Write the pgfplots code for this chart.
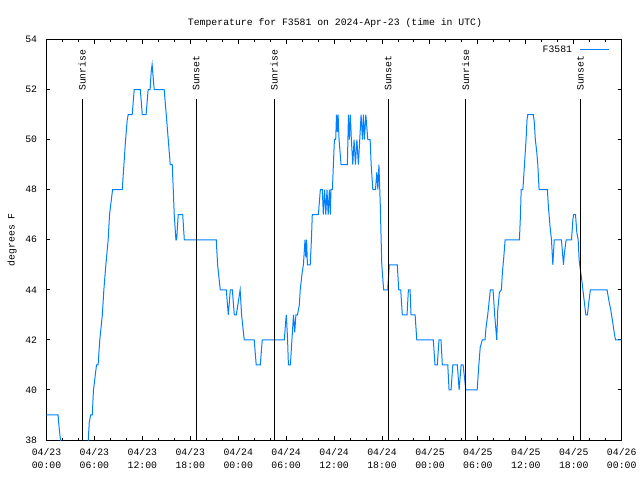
\documentclass[border=0pt]{standalone}
\usepackage{pgfplots}
\pgfplotsset{compat=1.18}
\usepackage{fontspec}
\setmainfont{Liberation Mono}
\definecolor{gblue}{RGB}{0,128,255}
\begin{document}
\fontsize{9.8}{13}\selectfont
\begin{tikzpicture}
\path[use as bounding box] (-46.5pt,-40pt) rectangle (593.5pt,440pt);
\node[anchor=center] at (288.5pt,417pt) {Temperature for F3581 on 2024-Apr-23 (time in UTC)};
\begin{axis}[
  at={(0pt,0pt)}, anchor=south west,
  scale only axis, width=575.2pt, height=400.5pt,
  xmin=0, xmax=72, ymin=38, ymax=54,
  xtick={0,6,...,72},
  minor x tick num=2,
  xticklabels={04/23\\00:00,04/23\\06:00,04/23\\12:00,04/23\\18:00,04/24\\00:00,04/24\\06:00,04/24\\12:00,04/24\\18:00,04/25\\00:00,04/25\\06:00,04/25\\12:00,04/25\\18:00,04/26\\00:00},
  ytick={38,40,...,54},
  tick align=inside, xtick pos=both, ytick pos=both,
  major tick length=4pt, minor tick length=2.5pt,
  tick style={black, line width=1pt},
  axis line style={line width=1pt},
  /pgf/number format/assume math mode=true,
  xticklabel style={align=center, yshift=-5pt},
  yticklabel style={xshift=-5.9pt},
  ylabel={degrees F},
  ylabel style={at={(axis description cs:-0.06,0.5)}, anchor=center},
  legend plot pos=right,
  legend image code/.code={\draw[#1] (0pt,0pt) -- (29pt,0pt);},
  legend style={draw=none, fill=none, inner sep=0pt, at={(axis description cs:1,1)}, anchor=north east, xshift=-11.7pt, yshift=-6pt, nodes={inner sep=0pt}},
]
\addplot[gblue, line width=1pt] coordinates {
(0,39) (1.45,39) (1.58,38.5) (1.75,38) (1.9,37) (5.0,37) (5.23,38) (5.35,38.7) (5.53,39) (5.73,39) (5.88,40) (6.26,41) (6.46,41) (6.67,42) (6.99,43) (7.18,44) (7.43,45) (7.72,46) (7.89,47) (8.27,48) (9.48,48) (9.69,49) (9.9,50) (10.11,50.8) (10.23,51) (10.73,51) (10.98,52) (11.74,52) (11.99,51) (12.47,51) (12.72,52) (12.97,52) (13.1,52.7) (13.22,53) (13.35,52.5) (13.48,52) (14.73,52) (14.99,51) (15.24,50) (15.49,49) (15.74,49) (15.87,48) (15.99,47) (16.2,46) (16.29,46) (16.49,47) (17.05,47) (17.25,46) (21.25,46) (21.42,45) (21.75,44) (22.5,44) (22.76,43) (23.01,44) (23.26,44) (23.51,43) (23.76,43) (24.24,44) (24.42,43) (24.75,42) (26.0,42) (26.25,41) (26.76,41) (27.01,42) (29.77,42) (29.93,42.7) (30.02,43) (30.18,42) (30.28,41) (30.53,41) (30.72,42) (30.92,43) (31.07,42.3) (31.22,43) (31.42,43) (31.65,43.4)
(31.76,44) (32.01,44.7) (32.16,45) (32.36,46) (32.46,45.3) (32.56,46) (32.66,45) (33.01,45) (33.16,46) (33.27,47) (34.03,47) (34.28,48) (34.53,48) (34.65,47) (34.81,48) (34.96,47) (35.11,48) (35.26,47) (35.41,48) (35.53,47) (35.61,48) (35.79,48) (35.91,49) (36.04,50) (36.2,50) (36.3,51) (36.4,50.3) (36.5,51) (36.62,50) (36.87,49) (37.66,49) (37.8,51) (37.91,50) (38.04,51) (38.16,50) (38.34,49) (38.5,50) (38.67,49) (38.85,50) (39.04,49) (39.38,51) (39.55,50) (39.67,51) (39.8,50) (39.97,51) (40.22,50) (40.51,50) (40.64,49) (40.85,48) (41.18,48) (41.35,48.7) (41.48,48) (41.61,49) (41.77,47.5) (41.97,45) (42.2,44) (42.45,44) (42.71,44) (42.91,45) (43.91,45) (44.09,44) (44.34,44) (44.54,43) (45.13,43) (45.3,44) (45.51,44) (45.63,43) (46.14,43) (46.35,42) (48.42,42) (48.63,41) (48.92,41) (49.13,42) (49.38,42) (49.55,41) (50.23,41) (50.39,40) (50.64,40) (50.86,41) (51.43,41) (51.65,40) (51.9,41) (52.15,41) (52.49,40) (53.91,40) (54.12,41) (54.29,41.7) (54.55,42) (54.89,42) (55.02,42.5) (55.23,43) (55.56,44) (55.9,44) (56.1,43) (56.36,42) (56.49,43.2) (56.69,43.9) (56.94,44) (57.07,44.7) (57.24,45.3) (57.41,46) (59.2,46) (59.33,47) (59.42,48) (59.63,48) (59.83,49) (60.03,50) (60.15,50.8) (60.24,51) (60.94,51) (61.06,50.7) (61.19,50) (61.37,49.5) (61.5,49) (61.66,48) (62.7,48) (62.83,47.3) (63.04,46.5) (63.21,46) (63.38,45) (63.56,46) (64.46,46) (64.71,45) (64.84,45.5) (65.05,46) (65.72,46) (65.89,46.8) (65.98,47) (66.22,47) (66.38,46.3) (66.55,46) (66.67,45.2) (66.83,44.8) (67.0,44.4) (67.29,43.6) (67.51,43) (67.71,43) (67.88,43.5) (68.08,44) (68.26,44) (70.17,44) (70.38,43.6) (70.63,43.2) (70.83,42.8) (71.01,42.4) (71.22,42) (72,42)
};
\addlegendentry{F3581\hspace*{7.7pt}}
\addplot[black, line width=1pt, forget plot] coordinates {(4.46,38) (4.46,51.62)} node[pos=1, rotate=90, anchor=west, inner xsep=7.8pt, inner ysep=0pt] {Sunrise};
\addplot[black, line width=1pt, forget plot] coordinates {(18.73,38) (18.73,51.62)} node[pos=1, rotate=90, anchor=west, inner xsep=7.8pt, inner ysep=0pt] {Sunset};
\addplot[black, line width=1pt, forget plot] coordinates {(28.5,38) (28.5,51.62)} node[pos=1, rotate=90, anchor=west, inner xsep=7.8pt, inner ysep=0pt] {Sunrise};
\addplot[black, line width=1pt, forget plot] coordinates {(42.78,38) (42.78,51.62)} node[pos=1, rotate=90, anchor=west, inner xsep=7.8pt, inner ysep=0pt] {Sunset};
\addplot[black, line width=1pt, forget plot] coordinates {(52.47,38) (52.47,51.62)} node[pos=1, rotate=90, anchor=west, inner xsep=7.8pt, inner ysep=0pt] {Sunrise};
\addplot[black, line width=1pt, forget plot] coordinates {(66.82,38) (66.82,51.62)} node[pos=1, rotate=90, anchor=west, inner xsep=7.8pt, inner ysep=0pt] {Sunset};
\end{axis}
\end{tikzpicture}
\end{document}
